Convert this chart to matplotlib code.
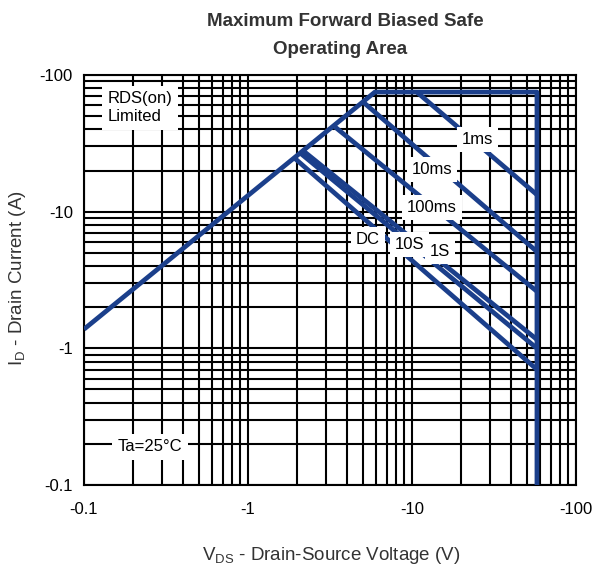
import matplotlib.pyplot as plt
import numpy as np

plt.rcParams['font.family'] = ['Liberation Sans', 'DejaVu Sans']

# axis ticks (plotted as magnitudes, labelled as negative values)
x_ticks = [0.1, 1, 10, 100]
x_tick_labels = ['-0.1', '-1', '-10', '-100']
y_ticks = [0.1, 1, 10, 100]
y_tick_labels = ['-0.1', '-1', '-10', '-100']

# RDS(on) limit line and the outer boundary (max current / max voltage)
rds_v = [0.1, 5.94]
rds_i = [1.38, 75.0]
i_max = 75.0
v_max = 57.8

# pulse-width lines: start point (V, I) and current where they hit v_max
pulse_names = ['1ms', '10ms', '100ms', '1S', '10S', 'DC']
pulse_start_v = [10.7, 5.02, 3.39, 2.13, 2.07, 1.91]
pulse_start_i = [75.0, 63.6, 41.7, 28.4, 27.0, 24.8]
pulse_end_i = [13.3, 5.1, 2.61, 1.16, 1.0, 0.70]

# label centres in data coordinates
label_v = [25.2, 13.2, 13.2, 14.8, 9.7, 5.4]
label_i = [33.6, 20.3, 10.7, 5.1, 5.74, 6.25]

blue = '#1b3f8b'

fig = plt.figure(figsize=(5.98, 5.70), dpi=100)
ax = fig.add_axes([84/598, 1-485/570, 492/598, 410/570])

ax.set_xscale('log')
ax.set_yscale('log')
ax.set_xlim(0.1, 100)
ax.set_ylim(0.1, 100)

# heavy black grid on every decade subdivision
ax.grid(which='both', color='black', lw=1.5, zorder=1)
ax.set_axisbelow(True)
for s in ax.spines.values():
    s.set_color('black')
    s.set_linewidth(1.5)

# safe operating area outline
ax.plot(rds_v + [v_max, v_max], rds_i + [i_max, 0.1], color=blue, lw=3.4,
        solid_capstyle='butt', zorder=3)

# pulse lines
for k in range(len(pulse_names)):
    ax.plot([pulse_start_v[k], v_max], [pulse_start_i[k], pulse_end_i[k]],
            color=blue, lw=3.4, solid_capstyle='butt', zorder=3)
    ax.text(label_v[k], label_i[k], pulse_names[k], fontsize=12,
            ha='center', va='center', zorder=5,
            bbox=dict(facecolor='white', edgecolor='none', pad=3.5))

ax.text(0.14, 57.4, 'RDS(on)\nLimited', fontsize=12, ha='left', va='center',
        linespacing=1.25, zorder=5,
        bbox=dict(facecolor='white', edgecolor='none', pad=4))
ax.text(0.252, 0.19, 'Ta=25°C', fontsize=12, ha='center', va='center', zorder=5,
        bbox=dict(facecolor='white', edgecolor='none', pad=4))

ax.set_xticks(x_ticks)
ax.set_xticklabels(x_tick_labels)
ax.set_yticks(y_ticks)
ax.set_yticklabels(y_tick_labels)
ax.tick_params(which='both', length=0, labelsize=12)
ax.tick_params(axis='x', pad=12)
ax.tick_params(axis='y', pad=8)

# titles and axis labels
fig.text(345/598, 1-22/570, 'Maximum Forward Biased Safe', fontsize=13.5,
         fontweight='bold', color='#333333', ha='center', va='center')
fig.text(340/598, 1-50/570, 'Operating Area', fontsize=13.5,
         fontweight='bold', color='#333333', ha='center', va='center')
fig.text(331/598, 1-555/570, r'V$_\mathregular{DS}$ - Drain-Source Voltage (V)',
         fontsize=13.5, color='#333333', ha='center', va='center')
fig.text(18/598, 1-278/570, r'I$_\mathregular{D}$ - Drain Current (A)',
         fontsize=13.5, color='#333333', ha='center', va='center', rotation=90)

plt.savefig('out.png', dpi=100)
